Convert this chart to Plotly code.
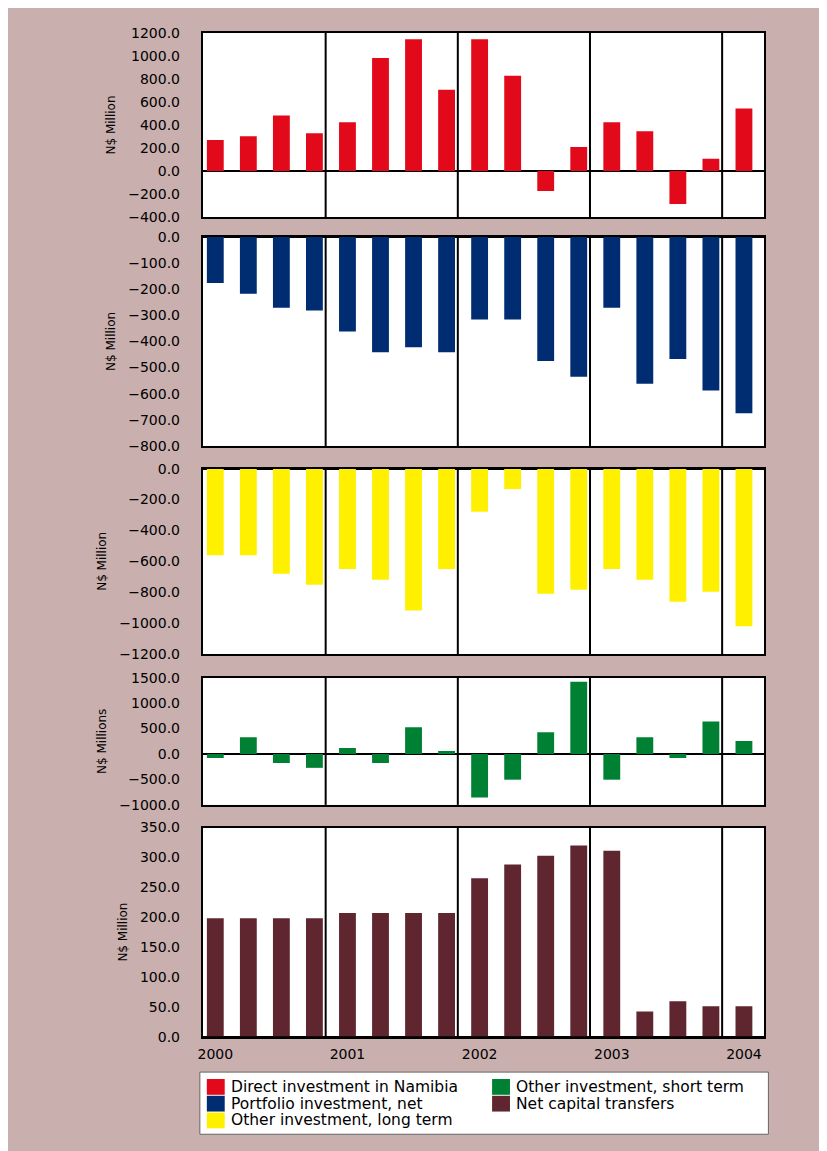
import plotly.graph_objects as go

# ---------------- data ----------------
periods = ["2000 Q1", "2000 Q2", "2000 Q3", "2000 Q4",
           "2001 Q1", "2001 Q2", "2001 Q3", "2001 Q4",
           "2002 Q1", "2002 Q2", "2002 Q3", "2002 Q4",
           "2003 Q1", "2003 Q2", "2003 Q3", "2003 Q4",
           "2004 Q1"]
year_ticks = ["2000 Q1", "2001 Q1", "2002 Q1", "2003 Q1", "2004 Q1"]
year_labels = ["2000", "2001", "2002", "2003", "2004"]

direct_investment = [269, 303, 483, 329, 423, 980, 1143, 706, 1143, 826, -174, 209, 423, 346, -286, 106, 543]
portfolio_net = [-176, -218, -271, -282, -362, -441, -422, -441, -316, -316, -475, -535, -271, -562, -467, -588, -675]
other_long_term = [-560, -560, -680, -752, -650, -720, -918, -650, -279, -132, -810, -784, -650, -720, -861, -797, -1021]
other_short_term = [-78, 330, -175, -272, 117, -175, 525, 58, -855, -505, 428, 1419, -505, 330, -78, 641, 253]
net_capital_transfers = [198, 198, 198, 198, 207, 207, 207, 207, 265, 288, 303, 320, 311, 42, 59, 51, 51]

series_names = ["Direct investment in Namibia", "Portfolio investment, net",
                "Other investment, long term", "Other investment, short term",
                "Net capital transfers"]
series_values = [direct_investment, portfolio_net, other_long_term,
                 other_short_term, net_capital_transfers]
colors = ["#E20A1A", "#002D72", "#FFF000", "#008033", "#5F2630"]
y_titles = ["N$ Million", "N$ Million", "N$ Million", "N$ Millions", "N$ Million"]
y_ranges = [[-400, 1200], [-800, 0], [-1200, 0], [-1000, 1500], [0, 350]]
y_dticks = [200, 100, 200, 500, 50]

# ---------------- layout geometry (pixels, figure coords) ----------------
W, H = 827, 1151
BG = "#C9AFAE"
px_left, px_right = 191, 756
panels_px = [(17, 204), (224, 436), (459, 647), (671, 800), (823, 1035)]
x_range = [-0.377, 16.62]


def fx(p):
    return p / W


def fy(p):
    return 1 - p / H


fig = go.Figure()
tick_font = dict(family="DejaVu Sans", size=14, color="black")

for i, (name, vals, col) in enumerate(zip(series_names, series_values, colors)):
    n = "" if i == 0 else str(i + 1)
    fig.add_trace(go.Bar(x=periods, y=vals, name=name, marker=dict(color=col, line_width=0),
                         xaxis="x" + n, yaxis="y" + n, showlegend=False))
    top, bot = panels_px[i]
    last = i == 4
    fig.layout["xaxis" + n] = dict(
        domain=[fx(px_left), fx(px_right)], anchor="y" + n, type="category",
        categoryorder="array", categoryarray=periods,
        range=x_range, showgrid=False, zeroline=False,
        showline=True, mirror=True, linecolor="black", linewidth=2,
        ticks="", tickmode="array",
        tickvals=year_ticks if last else [], ticktext=year_labels if last else [],
        tickfont=tick_font, showticklabels=last, ticklabelstandoff=4,
    )
    fig.layout["yaxis" + n] = dict(
        domain=[fy(bot), fy(top)], anchor="x" + n,
        range=y_ranges[i], dtick=y_dticks[i], tick0=0, tickformat=".1f",
        showgrid=False, zeroline=True, zerolinecolor="black", zerolinewidth=2,
        showline=True, mirror=True, linecolor="black", linewidth=2,
        ticks="", ticklabelstandoff=18, tickfont=tick_font,
        title=dict(text=y_titles[i], font=dict(family="DejaVu Sans", size=12, color="black"),
                   standoff=10),
    )
    # year separators
    for ys in year_ticks[1:]:
        xi = periods.index(ys) - 0.66
        fig.add_shape(type="line", xref="x" + n, yref="y" + n + " domain",
                      x0=xi, x1=xi, y0=0, y1=1, line=dict(color="black", width=2))

# ---------------- manual legend ----------------
fig.add_shape(type="rect", xref="paper", yref="paper",
              x0=fx(188), x1=fx(760), y0=fy(1134), y1=fy(1071),
              fillcolor="white", line=dict(color="#666666", width=1), layer="below")
legend_slots = [(195, 1086), (195, 1103), (195, 1120), (482, 1086), (482, 1103)]
for (lx, ly), name, col in zip(legend_slots, series_names, colors):
    fig.add_shape(type="rect", xref="paper", yref="paper",
                  x0=fx(lx), x1=fx(lx + 18), y0=fy(ly + 8), y1=fy(ly - 8),
                  fillcolor=col, line_width=0)
    fig.add_annotation(xref="paper", yref="paper", x=fx(lx + 22), y=fy(ly),
                       text=name, showarrow=False, xanchor="left", yanchor="middle",
                       font=dict(family="DejaVu Sans", size=15.5, color="black"))

fig.update_layout(
    width=W, height=H, margin=dict(l=0, r=0, t=0, b=0),
    paper_bgcolor=BG, plot_bgcolor="white",
    bargap=0.49, showlegend=False, hovermode=False,
)

fig.write_html("out.html")
